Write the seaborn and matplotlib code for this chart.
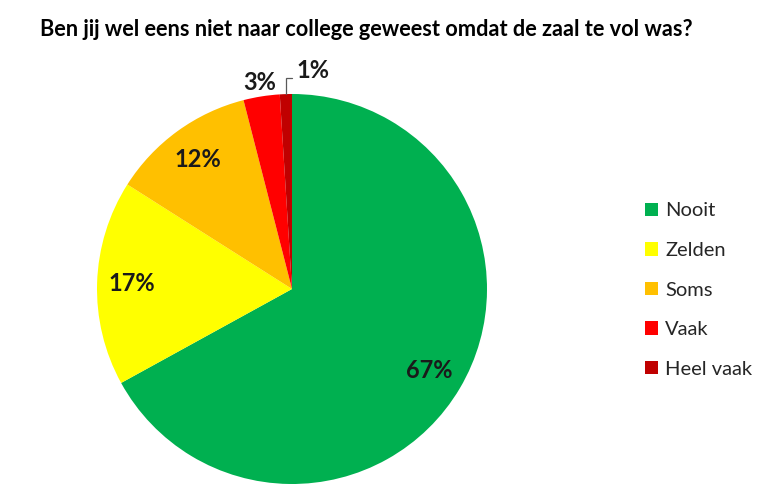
"""Pie chart: how often students skipped a lecture because the hall was too full."""

import matplotlib
matplotlib.use("Agg")
import matplotlib.pyplot as plt
import numpy as np
import seaborn as sns

TITLE = "Ben jij wel eens niet naar college geweest omdat de zaal te vol was?"
categories = ["Nooit", "Zelden", "Soms", "Vaak", "Heel vaak"]
percentages = [67, 17, 12, 3, 1]
colors = ["#00B050", "#FFFF00", "#FFC000", "#FF0000", "#C00000"]


def main() -> None:
    sns.set_theme(style="white")
    plt.rcParams["font.family"] = ["Lato", "DejaVu Sans"]
    palette = sns.color_palette(colors)

    fig = plt.figure(figsize=(7.68, 4.91), dpi=100)
    # pie centred at (292, 289) px with radius ~195 px
    ax = fig.add_axes([97 / 768, 7 / 491, 390 / 768, 390 / 491])

    label_style = {"fontsize": 17, "fontweight": "bold", "color": "#1a1a1a"}
    wedges, _, autotexts = ax.pie(
        percentages,
        colors=palette,
        startangle=90,
        counterclock=False,
        autopct="%d%%",
        pctdistance=0.82,
        wedgeprops={"linewidth": 0},
        textprops=label_style,
    )
    ax.set_aspect("equal")
    ax.set_xlim(-1, 1)
    ax.set_ylim(-1, 1)

    # small slices get their labels outside the pie
    for idx, wedge in enumerate(wedges):
        mid = np.deg2rad((wedge.theta1 + wedge.theta2) / 2)
        if idx == 3:
            autotexts[idx].set_position((1.07 * np.cos(mid), 1.07 * np.sin(mid)))
        elif idx == 4:
            autotexts[idx].set_visible(False)
            ex, ey = np.cos(mid), np.sin(mid)
            ax.plot([ex, ex, ex + 0.03], [ey, 1.08, 1.08], color="#595959",
                    linewidth=0.9, clip_on=False, solid_joinstyle="miter")
            ax.text(ex + 0.055, 1.12, f"{percentages[idx]}%", ha="left", va="center",
                    clip_on=False, **label_style)

    fig.text(40 / 768, 1 - 30 / 491, TITLE, fontsize=15.7, fontweight="bold",
             ha="left", va="center", color="#000000")

    fig.legend(
        wedges,
        categories,
        loc="center left",
        bbox_to_anchor=(627 / 768, 1 - 290 / 491),
        frameon=False,
        fontsize=14.5,
        handlelength=0.65,
        handleheight=0.65,
        handletextpad=0.35,
        labelspacing=1.12,
    )

    fig.savefig("out.png", dpi=100)
    plt.close(fig)


if __name__ == "__main__":
    main()
